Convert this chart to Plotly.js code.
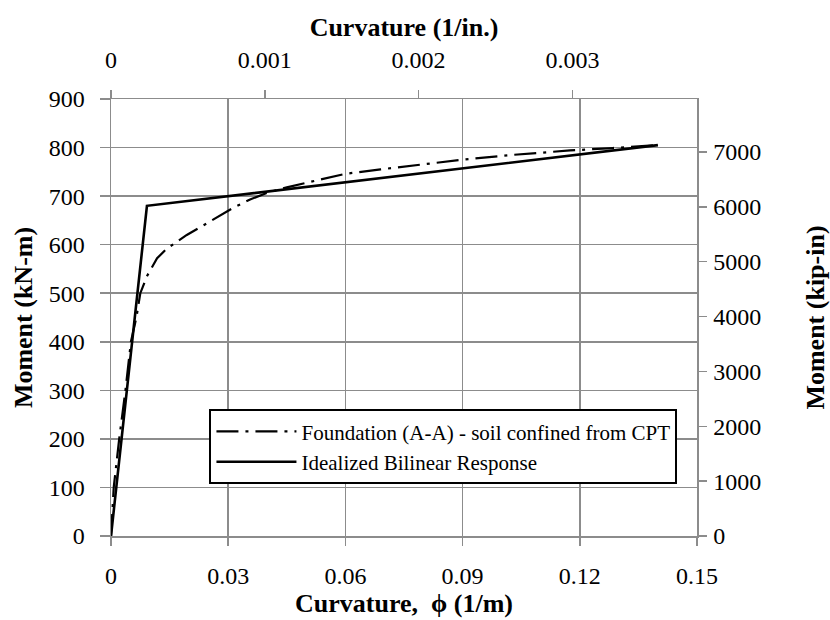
<!DOCTYPE html>
<html>
<head>
<meta charset="utf-8">
<script src="https://cdn.plot.ly/plotly-3.0.1.min.js"></script>
<style>html,body{margin:0;padding:0;background:#fff;}#chart{width:830px;height:620px;}</style>
</head>
<body>
<div id="chart"></div>
<script>
// Curvature (1/m) and moment (kN-m)
var phiFoundation = [0, 0.0007, 0.0021, 0.0037, 0.0051, 0.0065, 0.0075, 0.0092, 0.0118, 0.0143, 0.0169, 0.0194, 0.0254, 0.0313, 0.0356, 0.0400, 0.0450, 0.0520, 0.0600, 0.0690, 0.0786, 0.0900, 0.1030, 0.1175, 0.1285, 0.1400];
var momFoundation = [0, 100, 200, 300, 400, 450, 500, 535, 572, 592, 606, 620, 648, 676, 693, 707, 718, 731, 746, 755, 764, 775, 785, 794, 799, 805];
var phiBilinear = [0, 0.0092, 0.14];
var momBilinear = [0, 680, 805];
var bottomTicks = [0, 0.03, 0.06, 0.09, 0.12, 0.15];
var bottomTickText = ['0', '0.03', '0.06', '0.09', '0.12', '0.15'];
var topTicks = [0, 0.001, 0.002, 0.003];
var topTickText = ['0', '0.001', '0.002', '0.003'];
var leftTicks = [0, 100, 200, 300, 400, 500, 600, 700, 800, 900];
var rightTicks = [0, 1000, 2000, 3000, 4000, 5000, 6000, 7000];

var PER_M_PER_IN = 39.37;      // 1/in -> 1/m
var KNM_PER_KIPIN = 0.112985;  // kip-in -> kN-m

var FONT = '"Liberation Serif", "Times New Roman", Times, serif';
var GRID = '#8c8c8c';

var traces = [
  {x: phiFoundation, y: momFoundation, type: 'scatter', mode: 'lines',
   name: 'Foundation (A-A) - soil confined from CPT',
   line: {color: '#000', width: 2.2, dash: '22px,7px,3px,7px'}, hoverinfo: 'skip'},
  {x: phiBilinear, y: momBilinear, type: 'scatter', mode: 'lines',
   name: 'Idealized Bilinear Response',
   line: {color: '#000', width: 2.6}, hoverinfo: 'skip'},
  {x: phiBilinear.map(function(v){return v / PER_M_PER_IN;}),
   y: momBilinear.map(function(v){return v / KNM_PER_KIPIN;}),
   xaxis: 'x2', yaxis: 'y2', type: 'scatter', mode: 'lines',
   line: {width: 0, color: 'rgba(0,0,0,0)'}, opacity: 0, showlegend: false, hoverinfo: 'skip'}
];

var tickFont = {family: FONT, size: 24, color: '#000'};
var titleFont = {family: FONT, size: 26, color: '#000', weight: 'bold'};

var layout = {
  width: 830, height: 620,
  font: {family: FONT, color: '#000'},
  margin: {l: 111, r: 133, t: 99, b: 84, pad: 0},
  paper_bgcolor: '#fff', plot_bgcolor: '#fff',
  showlegend: true,
  legend: {x: 0.168, y: 0.29, xanchor: 'left', yanchor: 'top',
           bgcolor: '#fff', bordercolor: '#000', borderwidth: 2,
           font: {family: FONT, size: 21, color: '#000'}, itemwidth: 80,
           tracegroupgap: 0},
  xaxis: {range: [0, 0.15], tickvals: bottomTicks, ticktext: bottomTickText,
          showgrid: true, gridcolor: GRID, gridwidth: 1.5,
          showline: true, linecolor: GRID, linewidth: 1.5,
          ticks: 'outside', ticklen: 8, tickcolor: GRID, tickwidth: 1.5,
          ticklabelstandoff: 10,
          zeroline: false, tickfont: tickFont, automargin: false,
          title: {text: 'Curvature,  \u03d5 (1/m)', font: titleFont, standoff: 1}},
  xaxis2: {range: [0, 0.15 / PER_M_PER_IN], overlaying: 'x', side: 'top',
           tickvals: topTicks, ticktext: topTickText,
           showgrid: false, showline: true, linecolor: GRID, linewidth: 1.5,
           ticks: 'outside', ticklen: 8, tickcolor: GRID, tickwidth: 1.5,
           ticklabelstandoff: 12,
           zeroline: false, tickfont: tickFont, automargin: false,
           title: {text: 'Curvature (1/in.)', font: titleFont, standoff: 3}},
  yaxis: {range: [0, 900], tickvals: leftTicks,
          showgrid: true, gridcolor: GRID, gridwidth: 1.5,
          showline: true, linecolor: GRID, linewidth: 1.5,
          ticks: 'outside', ticklen: 10, tickcolor: GRID, tickwidth: 1.5,
          ticklabelstandoff: 10,
          zeroline: false, tickfont: tickFont, automargin: false,
          title: {text: 'Moment (kN-m)', font: titleFont, standoff: 8}},
  yaxis2: {range: [0, 900 / KNM_PER_KIPIN], overlaying: 'y', side: 'right',
           tickvals: rightTicks,
           showgrid: false, showline: true, linecolor: GRID, linewidth: 1.5,
           ticks: 'outside', ticklen: 8, tickcolor: GRID, tickwidth: 1.5,
           ticklabelstandoff: 2,
           zeroline: false, tickfont: tickFont, automargin: false,
           title: {text: 'Moment (kip-in)', font: titleFont, standoff: 45}}
};

Plotly.newPlot('chart', traces, layout, {staticPlot: true, displayModeBar: false});
</script>
</body>
</html>
